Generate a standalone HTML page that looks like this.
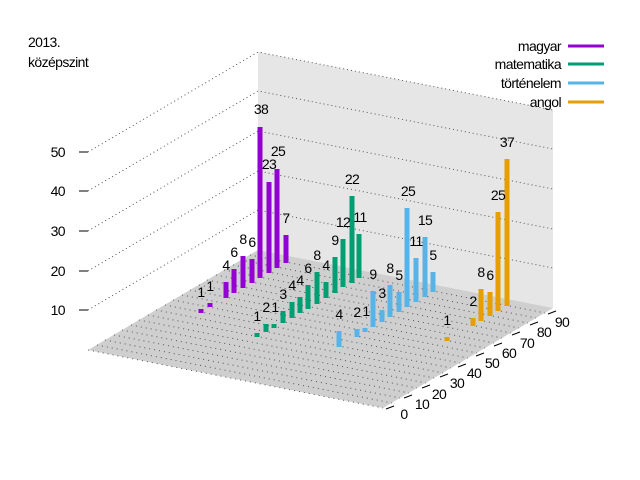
<!DOCTYPE html>
<html><head><meta charset="utf-8"><style>
html,body{margin:0;padding:0;background:#fff;}
svg{display:block;}
text{font-family:"Liberation Sans Narrow","Liberation Sans",sans-serif;font-size:14px;letter-spacing:-0.6px;fill:#000;}
</style></head><body>
<svg width="640" height="480" xmlns="http://www.w3.org/2000/svg">
<polygon points="258,52 553,110 553,308 258,250" fill="#e6e6e6"/>
<polygon points="88,350 258,250 553,308 383,408" fill="#cfcfcf"/>
<g stroke="#555" stroke-width="1" stroke-dasharray="1,4">
<line x1="88" y1="350" x2="383" y2="408"/>
<line x1="97" y1="345" x2="392" y2="403"/>
<line x1="105" y1="340" x2="400" y2="398"/>
<line x1="114" y1="335" x2="409" y2="393"/>
<line x1="122" y1="330" x2="417" y2="388"/>
<line x1="131" y1="325" x2="426" y2="383"/>
<line x1="139" y1="320" x2="434" y2="378"/>
<line x1="148" y1="315" x2="443" y2="373"/>
<line x1="156" y1="310" x2="451" y2="368"/>
<line x1="165" y1="305" x2="460" y2="363"/>
<line x1="173" y1="300" x2="468" y2="358"/>
<line x1="182" y1="295" x2="477" y2="353"/>
<line x1="190" y1="290" x2="485" y2="348"/>
<line x1="199" y1="285" x2="494" y2="343"/>
<line x1="207" y1="280" x2="502" y2="338"/>
<line x1="216" y1="275" x2="511" y2="333"/>
<line x1="224" y1="270" x2="519" y2="328"/>
<line x1="233" y1="265" x2="528" y2="323"/>
<line x1="241" y1="260" x2="536" y2="318"/>
<line x1="250" y1="255" x2="545" y2="313"/>
</g>
<g stroke="#555" stroke-width="1" stroke-dasharray="1,3" fill="none">
<polyline points="88,310 258,210 553,268"/>
<polyline points="88,271 258,171 553,229"/>
<polyline points="88,231 258,131 553,189"/>
<polyline points="88,191 258,91 553,149"/>
<polyline points="88,152 258,52 553,110"/>
</g>
<g stroke="#000" stroke-width="1">
<line x1="79" y1="310" x2="88" y2="310"/>
<line x1="79" y1="271" x2="88" y2="271"/>
<line x1="79" y1="231" x2="88" y2="231"/>
<line x1="79" y1="191" x2="88" y2="191"/>
<line x1="79" y1="152" x2="88" y2="152"/>
</g>
<g text-anchor="end">
<text x="65" y="315">10</text>
<text x="65" y="276">20</text>
<text x="65" y="236">30</text>
<text x="65" y="196">40</text>
<text x="65" y="157">50</text>
</g>
<g stroke="#000" stroke-width="1">
<line x1="386" y1="409" x2="394" y2="406"/>
<line x1="404" y1="398" x2="412" y2="395"/>
<line x1="422" y1="388" x2="430" y2="385"/>
<line x1="440" y1="377" x2="448" y2="374"/>
<line x1="458" y1="367" x2="466" y2="364"/>
<line x1="476" y1="356" x2="484" y2="353"/>
<line x1="494" y1="346" x2="502" y2="343"/>
<line x1="512" y1="335" x2="520" y2="332"/>
<line x1="530" y1="325" x2="538" y2="322"/>
<line x1="548" y1="314" x2="556" y2="311"/>
</g>
<g text-anchor="middle">
<text x="404" y="419">0</text>
<text x="422" y="409">10</text>
<text x="439" y="399">20</text>
<text x="457" y="388">30</text>
<text x="474" y="378">40</text>
<text x="492" y="368">50</text>
<text x="509" y="358">60</text>
<text x="527" y="348">70</text>
<text x="544" y="337">80</text>
<text x="562" y="327">90</text>
</g>
<text x="28" y="47">2013.</text>
<text x="28" y="67">középszint</text>
<g text-anchor="end">
<text x="561" y="51">magyar</text>
<text x="561" y="69">matematika</text>
<text x="561" y="88">történelem</text>
<text x="561" y="107">angol</text>
</g>
<g stroke-width="3">
<line x1="568" y1="46" x2="604" y2="46" stroke="#9400d3"/>
<line x1="568" y1="64" x2="604" y2="64" stroke="#009e73"/>
<line x1="568" y1="83" x2="604" y2="83" stroke="#56b4e9"/>
<line x1="568" y1="102" x2="604" y2="102" stroke="#e69f00"/>
</g>
<g fill="#9400d3">
<rect x="198.5" y="309" width="5" height="4"/>
<rect x="207.5" y="303" width="5" height="4"/>
<rect x="223.5" y="282" width="5" height="16"/>
<rect x="231.5" y="269" width="5" height="24"/>
<rect x="240.5" y="256" width="5" height="32"/>
<rect x="249.5" y="259" width="5" height="24"/>
<rect x="257.5" y="127" width="5" height="151"/>
<rect x="266.5" y="182" width="5" height="91"/>
<rect x="274.5" y="169" width="5" height="99"/>
<rect x="283.5" y="235" width="5" height="28"/>
</g>
<g text-anchor="middle">
<text x="201" y="297">1</text>
<text x="210" y="291">1</text>
<text x="226" y="270">4</text>
<text x="234" y="257">6</text>
<text x="243" y="244">8</text>
<text x="252" y="247">6</text>
<text x="261" y="114">38</text>
<text x="269" y="169">23</text>
<text x="278" y="156">25</text>
<text x="286" y="223">7</text>
</g>
<g fill="#009e73">
<rect x="254.5" y="333" width="5" height="4"/>
<rect x="263.5" y="324" width="5" height="8"/>
<rect x="271.5" y="324" width="5" height="4"/>
<rect x="280.5" y="311" width="5" height="12"/>
<rect x="289.5" y="302" width="5" height="16"/>
<rect x="297.5" y="297" width="5" height="16"/>
<rect x="305.5" y="285" width="5" height="24"/>
<rect x="314.5" y="272" width="5" height="32"/>
<rect x="323.5" y="282" width="5" height="16"/>
<rect x="332.5" y="257" width="5" height="36"/>
<rect x="340.5" y="239" width="5" height="48"/>
<rect x="349.5" y="196" width="5" height="87"/>
<rect x="356.5" y="234" width="5" height="44"/>
</g>
<g text-anchor="middle">
<text x="257" y="321">1</text>
<text x="266" y="312">2</text>
<text x="275" y="312">1</text>
<text x="283" y="299">3</text>
<text x="292" y="290">4</text>
<text x="300" y="285">4</text>
<text x="308" y="273">6</text>
<text x="317" y="260">8</text>
<text x="326" y="270">4</text>
<text x="335" y="245">9</text>
<text x="343" y="227">12</text>
<text x="352" y="184">22</text>
<text x="360" y="222">11</text>
</g>
<g fill="#56b4e9">
<rect x="336.5" y="331" width="5" height="16"/>
<rect x="354.5" y="329" width="5" height="8"/>
<rect x="362.5" y="328" width="5" height="4"/>
<rect x="370.5" y="291" width="5" height="36"/>
<rect x="379.5" y="310" width="5" height="12"/>
<rect x="387.5" y="285" width="5" height="32"/>
<rect x="396.5" y="292" width="5" height="20"/>
<rect x="404.5" y="208" width="5" height="99"/>
<rect x="413.5" y="258" width="5" height="44"/>
<rect x="422.5" y="237" width="5" height="60"/>
<rect x="430.5" y="272" width="5" height="20"/>
</g>
<g text-anchor="middle">
<text x="339" y="319">4</text>
<text x="357" y="317">2</text>
<text x="366" y="316">1</text>
<text x="373" y="279">9</text>
<text x="382" y="298">3</text>
<text x="390" y="273">8</text>
<text x="399" y="280">5</text>
<text x="408" y="196">25</text>
<text x="416" y="246">11</text>
<text x="425" y="225">15</text>
<text x="433" y="260">5</text>
</g>
<g fill="#e69f00">
<rect x="444.5" y="337" width="5" height="4"/>
<rect x="470.5" y="318" width="5" height="8"/>
<rect x="478.5" y="289" width="5" height="32"/>
<rect x="487.5" y="292" width="5" height="24"/>
<rect x="495.5" y="212" width="5" height="99"/>
<rect x="504.5" y="159" width="5" height="147"/>
</g>
<g text-anchor="middle">
<text x="447" y="325">1</text>
<text x="473" y="306">2</text>
<text x="481" y="277">8</text>
<text x="490" y="280">6</text>
<text x="498" y="200">25</text>
<text x="507" y="147">37</text>
</g>
</svg>
</body></html>
